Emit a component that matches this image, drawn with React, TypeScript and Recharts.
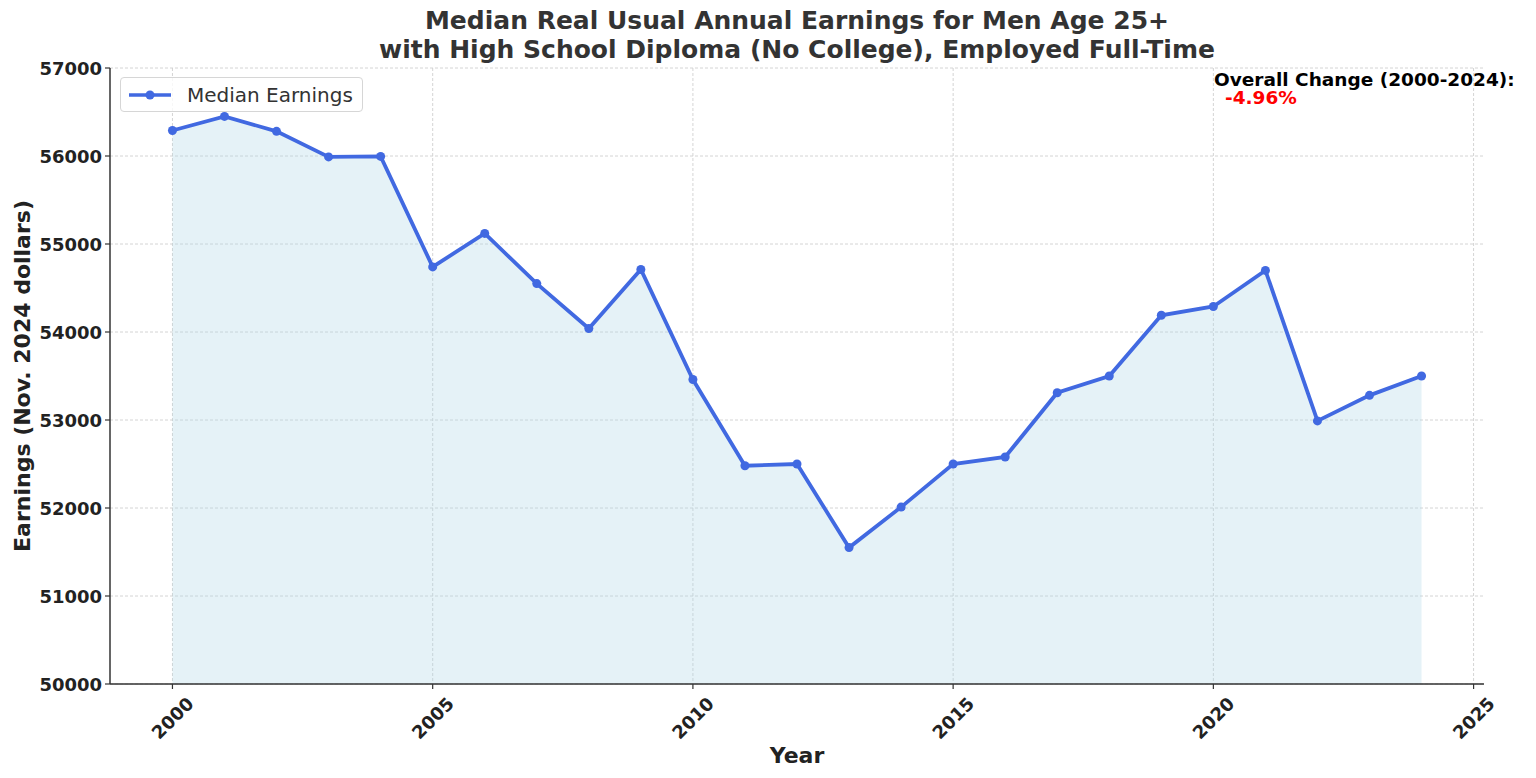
import React from 'react';
import {
  ComposedChart,
  Area,
  Line,
  XAxis,
  YAxis,
  CartesianGrid,
  Customized,
} from 'recharts';

const years = [
  2000, 2001, 2002, 2003, 2004, 2005, 2006, 2007, 2008, 2009, 2010, 2011, 2012,
  2013, 2014, 2015, 2016, 2017, 2018, 2019, 2020, 2021, 2022, 2023, 2024,
];
const earnings = [
  56290, 56450, 56280, 55990, 55995, 54740, 55120, 54550, 54040, 54710, 53460,
  52480, 52500, 51550, 52010, 52500, 52580, 53310, 53500, 54190, 54290, 54700,
  52990, 53280, 53500,
];
const xTicks = [2000, 2005, 2010, 2015, 2020, 2025];
const yTicks = [50000, 51000, 52000, 53000, 54000, 55000, 56000, 57000];

const data = years.map((year, i) => ({ year, earnings: earnings[i] }));

const change = ((earnings[earnings.length - 1] - earnings[0]) / earnings[0]) * 100;

const FONT = '"DejaVu Sans", sans-serif';

const XTick = (props: any) => {
  const { x, y, payload } = props;
  const cy = y + 27;
  return (
    <text
      x={x}
      y={cy}
      textAnchor="middle"
      dominantBaseline="central"
      transform={`rotate(-45, ${x}, ${cy})`}
      fontFamily={FONT}
      fontWeight="bold"
      fontSize={18}
      fill="#222"
    >
      {payload.value}
    </text>
  );
};

const YTick = (props: any) => {
  const { x, y, payload } = props;
  return (
    <text
      x={x}
      y={y}
      textAnchor="end"
      dominantBaseline="central"
      fontFamily={FONT}
      fontWeight="bold"
      fontSize={18}
      fill="#222"
    >
      {payload.value}
    </text>
  );
};

const LegendBox = () => (
  <div
    style={{
      position: 'absolute',
      left: 120,
      top: 77,
      width: 243,
      height: 35,
      boxSizing: 'border-box',
      display: 'flex',
      alignItems: 'center',
      border: '1px solid #d6d6d6',
      borderRadius: 4,
      background: 'rgba(255,255,255,0.8)',
      paddingLeft: 6,
      fontFamily: FONT,
      fontSize: 20,
      color: '#333',
      zIndex: 2,
    }}
  >
    <svg width={46} height={14} style={{ marginRight: 14 }}>
      <line x1={2} y1={7} x2={44} y2={7} stroke="#4169e1" strokeWidth={3.5} />
      <circle cx={23} cy={7} r={4.5} fill="#4169e1" />
    </svg>
    Median Earnings
  </div>
);

const Annotation = () => (
  <g fontFamily={FONT} fontWeight="bold">
    <text x={1214} y={86} fill="#000" fontSize={18.5}>
      Overall Change (2000-2024):
    </text>
    <text x={1225} y={104} fill="#ff0000" fontSize={18.5}>
      {change.toFixed(2)}%
    </text>
    <text
      x={22}
      y={376}
      fill="#222"
      fontSize={22}
      textAnchor="middle"
      dominantBaseline="central"
      transform="rotate(-90, 22, 376)"
    >
      Earnings (Nov. 2024 dollars)
    </text>
  </g>
);

const App: React.FC = () => (
  <div
    style={{
      position: 'absolute',
      left: 0,
      top: 0,
      width: 1536,
      height: 778,
      background: '#fff',
    }}
  >
    <div
      style={{
        position: 'absolute',
        left: 0,
        top: 6,
        width: 1594,
        textAlign: 'center',
        fontFamily: FONT,
        fontWeight: 'bold',
        fontSize: 25,
        lineHeight: '29px',
        color: '#333',
        zIndex: 2,
      }}
    >
      Median Real Usual Annual Earnings for Men Age 25+
      <br />
      with High School Diploma (No College), Employed Full-Time
    </div>
    <LegendBox />
    <ComposedChart
      width={1536}
      height={778}
      data={data}
      margin={{ top: 68, right: 52, bottom: 34, left: 50 }}
      style={{ position: 'absolute', left: 0, top: 0 }}
    >
      <CartesianGrid
        stroke="#cfcfcf"
        strokeDasharray="3 2"
        strokeWidth={0.9}
        horizontalValues={yTicks}
        verticalValues={xTicks}
      />
      <XAxis
        dataKey="year"
        type="number"
        domain={[1998.8, 2025.2]}
        ticks={xTicks}
        allowDataOverflow
        height={60}
        tick={<XTick />}
        tickSize={5}
        tickLine={{ stroke: '#333', strokeWidth: 1.2 }}
        axisLine={{ stroke: '#333', strokeWidth: 1.5 }}
        label={{
          value: 'Year',
          position: 'insideBottom',
          offset: -19,
          style: { fontFamily: FONT, fontWeight: 'bold', fontSize: 22, fill: '#222' },
        }}
      />
      <YAxis
        type="number"
        domain={[50000, 57000]}
        ticks={yTicks}
        allowDataOverflow
        width={60}
        tick={<YTick />}
        tickSize={5}
        tickMargin={3}
        tickLine={{ stroke: '#333', strokeWidth: 1.2 }}
        axisLine={{ stroke: '#333', strokeWidth: 1.5 }}
      />
      <Area
        type="linear"
        dataKey="earnings"
        stroke="none"
        fill="#add8e6"
        fillOpacity={0.32}
        dot={false}
        activeDot={false}
        isAnimationActive={false}
      />
      <Line
        type="linear"
        dataKey="earnings"
        name="Median Earnings"
        stroke="#4169e1"
        strokeWidth={3.8}
        dot={{ r: 4.5, fill: '#4169e1', stroke: '#4169e1', strokeWidth: 0, fillOpacity: 1 }}
        activeDot={false}
        isAnimationActive={false}
      />
      <Customized component={Annotation} />
    </ComposedChart>
  </div>
);

export default App;
